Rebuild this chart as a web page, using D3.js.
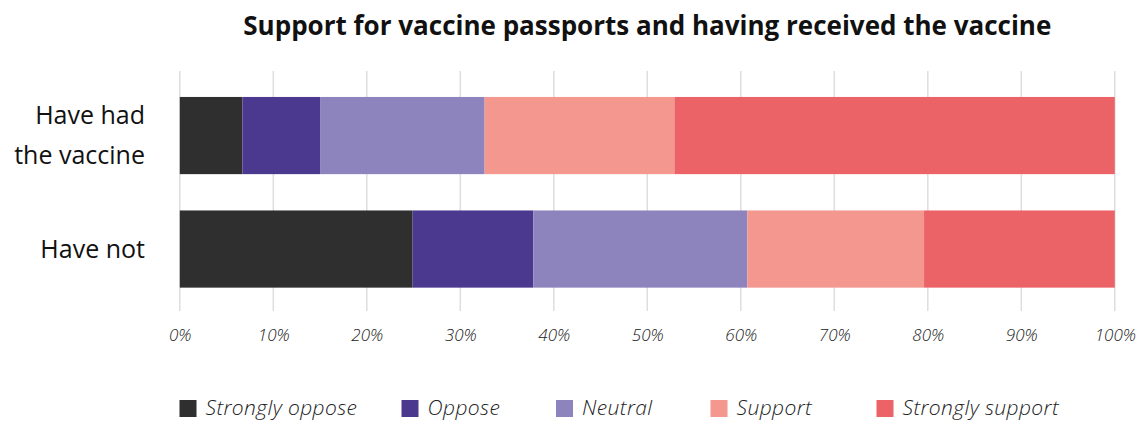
<!DOCTYPE html>
<html>
<head>
<meta charset="utf-8">
<script src="https://cdn.jsdelivr.net/npm/d3@7"></script>
<style>
  html, body { margin: 0; padding: 0; background: #fff; }
  svg { display: block; font-family: "Open Sans", Lato, sans-serif; }
</style>
</head>
<body>
<svg id="chart" width="1139" height="421"></svg>
<script>
// ---- data ----
const categories = ["Have had the vaccine", "Have not"];
const categoryLines = [["Have had", "the vaccine"], ["Have not"]];
const seriesNames = ["Strongly oppose", "Oppose", "Neutral", "Support", "Strongly support"];
const stronglyOppose = [6.7, 24.9];
const oppose = [8.3, 12.9];
const neutral = [17.6, 22.9];
const support = [20.3, 18.9];
const stronglySupport = [47.1, 20.4];
const tickValues = [0, 10, 20, 30, 40, 50, 60, 70, 80, 90, 100];
const tickLabels = ["0%", "10%", "20%", "30%", "40%", "50%", "60%", "70%", "80%", "90%", "100%"];
const title = "Support for vaccine passports and having received the vaccine";

// ---- styles / layout ----
const colors = ["#2f2f2f", "#4b3990", "#8d84bd", "#f3978f", "#eb6267"];
const legendX = [179.5, 401.5, 556, 710.5, 876.5];

const svg = d3.select("#chart");
const x = d3.scaleLinear().domain([0, 100]).range([179.8, 1114.8]);
const y = d3.scaleBand().domain(categories).range([78.8, 305.8])
  .paddingInner(0.32).paddingOuter(0.16);

// table
const seriesValues = [stronglyOppose, oppose, neutral, support, stronglySupport];
const table = categories.map((c, i) => {
  const row = { category: c };
  seriesNames.forEach((s, j) => row[s] = seriesValues[j][i]);
  return row;
});
const stacked = d3.stack().keys(seriesNames)(table);

// grid
svg.append("g").selectAll("line").data(tickValues).join("line")
  .attr("x1", d => x(d)).attr("x2", d => x(d))
  .attr("y1", 71).attr("y2", 311)
  .attr("stroke", "#dedede").attr("stroke-width", 1.5);

// bars
svg.append("g").selectAll("g").data(stacked).join("g")
  .attr("fill", (d, i) => colors[i])
  .selectAll("rect").data(d => d).join("rect")
  .attr("x", d => x(d[0]))
  .attr("width", d => x(d[1]) - x(d[0]))
  .attr("y", d => y(d.data.category))
  .attr("height", y.bandwidth());

// x axis labels
const xAxis = d3.axisBottom(x).tickValues(tickValues)
  .tickFormat((d, i) => tickLabels[i]).tickSize(0).tickPadding(0);
const gx = svg.append("g").attr("transform", "translate(0,329)").call(xAxis);
gx.select(".domain").remove();
gx.selectAll("text")
  .attr("font-family", "'Open Sans', sans-serif")
  .attr("font-style", "italic")
  .attr("font-weight", 300)
  .attr("font-size", 17)
  .attr("fill", "#222")
  .attr("dy", "0.71em");

// y labels
const lineH = 40;
svg.append("g").selectAll("text").data(categories).join("text")
  .attr("text-anchor", "end")
  .attr("font-size", 25)
  .attr("fill", "#111")
  .attr("transform", d => `translate(145, ${y(d) + y.bandwidth() / 2})`)
  .each(function (d, i) {
    const lines = categoryLines[i];
    const t = d3.select(this);
    lines.forEach((l, k) => {
      t.append("tspan").attr("x", 0)
        .attr("y", (k - (lines.length - 1) / 2) * lineH)
        .attr("dy", "0.35em").text(l);
    });
  });

// title
svg.append("text")
  .attr("x", (x(0) + x(100)) / 2).attr("y", 35)
  .attr("text-anchor", "middle")
  .attr("font-size", 26).attr("font-weight", 700)
  .attr("fill", "#111")
  .text(title);

// legend
const lg = svg.append("g").selectAll("g").data(seriesNames).join("g")
  .attr("transform", (d, i) => `translate(${legendX[i]}, 400)`);
lg.append("rect").attr("width", 17).attr("height", 17)
  .attr("fill", (d, i) => colors[i]);
lg.append("text").attr("x", 26).attr("y", 15)
  .attr("font-style", "italic").attr("font-weight", 300)
  .attr("font-size", 21).attr("letter-spacing", 0.4).attr("fill", "#222")
  .text(d => d);
</script>
</body>
</html>
